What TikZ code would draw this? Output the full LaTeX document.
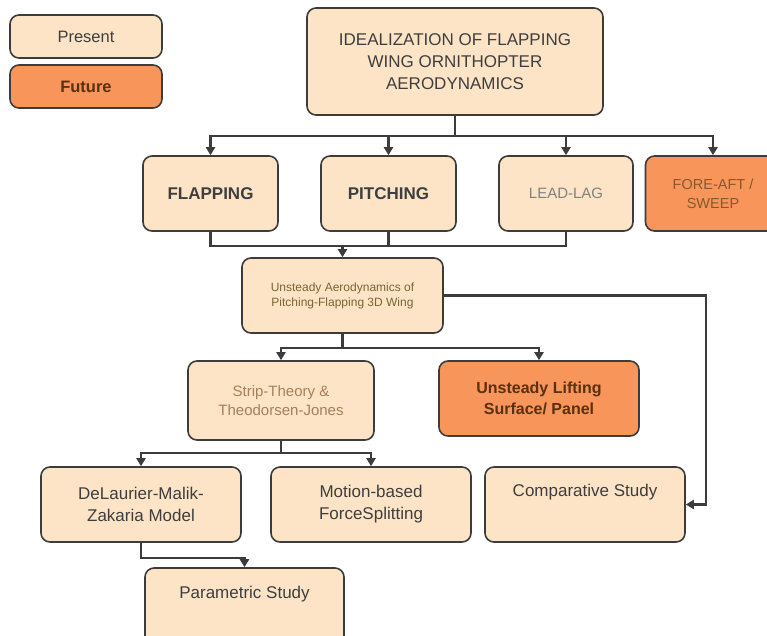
\documentclass[tikz,border=0pt]{standalone}
\usepackage{fontspec}
\setmainfont{Liberation Sans}
\usetikzlibrary{arrows.meta}
\usetikzlibrary{positioning}
\definecolor{peach}{HTML}{FDE4C6}
\definecolor{orng}{HTML}{F7955A}
\definecolor{edge}{HTML}{3C3C3C}
\definecolor{txt}{HTML}{3E3E3E}
\definecolor{olive}{HTML}{7A6432}
\definecolor{dkbrown}{HTML}{5A300E}
\tikzset{
	box/.style={draw=edge,line width=1.6pt,fill=peach,rounded corners=9pt,align=center,text=txt,font=\fontsize{17}{22}\selectfont},
	future/.style={box,fill=orng},
	link/.style={draw=edge,line width=2.6pt},
	arr/.style={link,-{Triangle[length=8pt,width=9pt]}}
}

\begin{document}
\begin{tikzpicture}[x=1pt,y=-1pt]
			\useasboundingbox (0,0) rectangle (767,635);
			\clip (0,0) rectangle (767,635);
			\fill[white] (0,0) rectangle (767,635);
			% key
			\node[box,minimum width=152pt,minimum height=43pt,font=\fontsize{16.5}{20}\selectfont] (present) at (86,36.5) {Present};
			\node[future,minimum width=152pt,minimum height=43pt,text=dkbrown,font=\fontsize{16.5}{20}\selectfont\bfseries] (future) at (86,86.5) {Future};
			% top
			\node[box,minimum width=296pt,minimum height=107pt] (idea) at (455,61.5) {IDEALIZATION OF FLAPPING\\WING ORNITHOPTER\\AERODYNAMICS};
			% motions
			\node[box,minimum width=135pt,minimum height=75pt,font=\fontsize{17}{22}\selectfont\bfseries] (flap) at (210.5,193.5) {FLAPPING};
			\node[box,minimum width=135pt,minimum height=75pt,font=\fontsize{17}{22}\selectfont\bfseries] (pitch) at (388.5,193.5) {PITCHING};
			\node[box,minimum width=134pt,minimum height=75pt,text=gray,font=\fontsize{15}{19}\selectfont] (lead) at (566,193.5) {LEAD-LAG};
			\node[future,minimum width=135pt,minimum height=75pt,text=brown!70!black,font=\fontsize{14.5}{19}\selectfont] (fore) at (713,193.5) {FORE-AFT /\\SWEEP};
			% models
			\node[box,minimum width=201pt,minimum height=75pt,text=olive,font=\fontsize{12}{15}\selectfont] (unst) at (342.5,295.5) {Unsteady Aerodynamics of\\Pitching-Flapping 3D Wing};
			\node[box,minimum width=186pt,minimum height=79pt,text=brown!60!gray,font=\fontsize{15}{19}\selectfont] (strip) at (281,400.5) {Strip-Theory \&\\Theodorsen-Jones};
			\node[future,minimum width=200pt,minimum height=75pt,text=dkbrown,font=\fontsize{16}{21}\selectfont\bfseries] (lift) at (539,398.5) {Unsteady Lifting\\Surface/ Panel};
			\node[box,minimum width=200pt,minimum height=75pt] (delau) at (141,504.5) {DeLaurier-Malik-\\Zakaria Model};
			\node[box,minimum width=200pt,minimum height=75pt] (motion) at (371,504.5) {Motion-based\\ForceSplitting};
			\node[box,minimum width=200pt,minimum height=75pt] (comp) at (585,504.5) {Comparative Study\\ \strut};
			\node[box,minimum width=199pt,minimum height=77pt] (param) at (244.5,606.5) {Parametric Study\\ \strut};

			% connectors
			\draw[link] (idea.south) -- ++(0,20) coordinate (bus);
			\draw[arr] (bus) -| (flap.north);
			\draw[arr] (bus) -| (pitch.north);
			\draw[arr] (bus) -| (lead.north);
			\draw[arr] (bus) -| (fore.north);
			\draw[link] (flap.south) -- ++(0,14) coordinate (join) -| (lead.south);
			\draw[link] (pitch.south) -- (pitch.south |- join);
			\draw[arr] (join -| unst.north) -- (unst.north);
			\coordinate (turn) at (706,0);
			\draw[arr] (unst.east) -| (turn |- comp.east) -- (comp.east);
			\draw[link] (unst.south) -- ++(0,14) coordinate (split);
			\draw[arr] (split) -| (strip.north);
			\draw[arr] (split) -| (lift.north);
			\draw[link] (strip.south) -- ++(0,12) coordinate (split2);
			\draw[arr] (split2) -| (delau.north);
			\draw[arr] (split2) -| (motion.north);
			\draw[arr] (delau.south) -- ++(0,15) -| (param.north);
		\end{tikzpicture}
\end{document}
